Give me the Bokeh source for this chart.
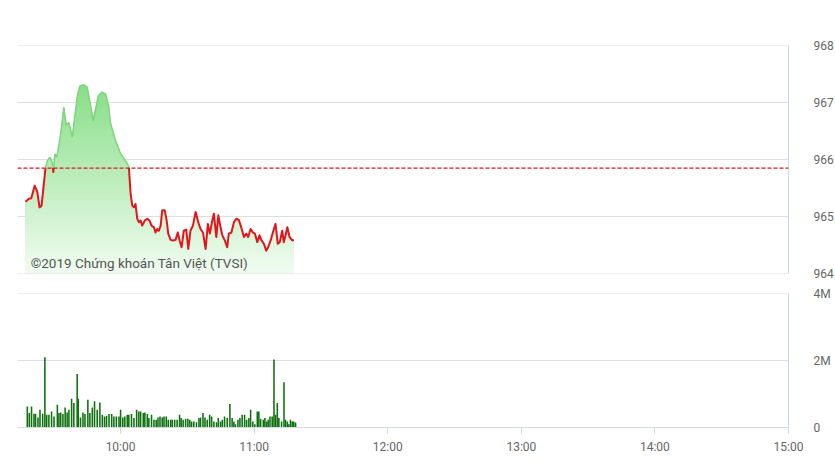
import numpy as np
from bokeh.plotting import figure
from bokeh.layouts import column
from bokeh.models import Range1d, FixedTicker, Label, Span
from bokeh.embed import file_html
from bokeh.resources import INLINE

# ---------------- data ----------------
# time = minutes after 09:00
price_min = [17.3, 18.8, 19.9, 21.4, 22.6, 23.6, 24.5, 26.3, 27.1, 28.25,
             29.3, 29.8, 30.5, 31.3, 32.3, 33.4, 34.5, 35.6, 36.8, 38.3,
             39.3, 40.6, 41.7, 43.5, 45.0, 46.5, 47.7, 48.8, 50.0, 51.5,
             53.3, 54.7, 55.5, 57.8, 60.0, 62.2, 63.7, 64.5, 65.25, 66.0,
             66.7, 67.5, 68.2, 69.0, 69.7, 70.9, 72.0, 73.0, 73.9, 75.0,
             75.7, 76.5, 77.2, 78.0, 78.7, 79.8, 80.7, 81.4, 82.5, 83.5,
             84.7, 85.7, 86.5, 87.4, 88.4, 89.5, 90.4, 91.4, 92.5, 93.7,
             94.9, 95.9, 97.0, 98.2, 99.2, 100.1, 101.2, 101.9, 103.0, 103.9,
             104.9, 105.7, 106.8, 107.9, 108.6, 109.8, 110.9, 112.0, 113.1, 114.2,
             115.4, 116.5, 117.3, 118.4, 119.4, 120.3, 121.4, 122.4, 123.3, 124.4,
             125.4, 126.3, 127.4, 128.4, 129.6, 130.6, 131.5, 132.6, 133.3, 134.1,
             134.9, 135.9, 137.1, 137.8]
price_val = [965.26, 965.31, 965.32, 965.54, 965.43, 965.16, 965.19, 965.86, 965.98, 966.04,
             965.95, 965.78, 966.10, 966.04, 966.25, 966.54, 966.92, 966.60, 966.65, 966.39,
             966.71, 967.12, 967.29, 967.31, 967.27, 966.95, 966.68, 966.89, 967.12, 967.18,
             967.15, 966.92, 966.63, 966.33, 966.10, 965.98, 965.88, 965.40, 965.19, 965.16,
             965.22, 964.96, 964.90, 964.93, 964.84, 964.93, 964.96, 964.93, 964.84, 964.81,
             964.72, 964.78, 964.75, 964.84, 965.11, 965.11, 964.93, 964.70, 964.59, 964.58,
             964.59, 964.72, 964.58, 964.46, 964.75, 964.77, 964.43, 964.75, 964.84, 965.08,
             964.90, 964.78, 964.72, 964.43, 964.87, 964.70, 964.93, 965.05, 964.64, 965.02,
             964.81, 964.67, 964.58, 964.46, 964.70, 964.72, 964.90, 964.96, 964.94, 964.81,
             964.64, 964.70, 964.64, 964.78, 964.72, 964.70, 964.55, 964.67, 964.58, 964.52,
             964.40, 964.46, 964.58, 964.72, 964.87, 964.52, 964.55, 964.75, 964.55, 964.67,
             964.81, 964.64, 964.58, 964.59]
ref_price = 965.85

vol_min = [18.1, 19.0, 20.0, 21.1, 21.8, 22.9, 23.8, 25.0, 26.0, 26.8,
           27.8, 29.0, 30.1, 31.6, 32.3, 33.1, 34.1, 35.1, 36.0, 36.8,
           38.0, 39.0, 40.5, 41.0, 42.0, 43.1, 44.0, 45.3, 46.2, 47.3,
           48.3, 49.5, 50.7, 51.8, 52.8, 53.7, 54.8, 56.0, 57.0, 58.1,
           59.3, 60.0, 61.0, 61.9, 63.0, 63.7, 64.9, 66.0, 67.2, 68.2,
           69.0, 70.2, 70.9, 72.0, 72.7, 73.9, 75.0, 76.0, 76.8, 77.7,
           78.7, 79.5, 80.5, 81.4, 82.5, 83.2, 84.3, 85.4, 86.5, 87.2,
           88.1, 89.2, 90.2, 91.1, 91.9, 92.9, 94.1, 95.2, 95.9, 97.0,
           97.9, 98.9, 100.0, 100.9, 101.9, 103.1, 103.9, 104.9, 105.7, 106.7,
           107.9, 109.1, 110.1, 110.9, 111.6, 112.7, 113.6, 114.6, 115.7, 116.6,
           117.6, 118.4, 119.4, 120.3, 121.4, 122.1, 122.9, 124.1, 124.8, 125.6,
           126.3, 127.1, 128.1, 128.9, 129.6, 130.4, 131.1, 132.3, 133.4, 134.1,
           134.9, 135.6, 136.3, 137.1, 137.8, 138.6]
vol_m = [0.63, 0.43, 0.63, 0.41, 0.41, 0.30, 0.53, 0.41, 2.10, 0.38,
         0.38, 0.48, 0.33, 0.68, 0.43, 0.45, 0.40, 0.60, 0.45, 0.53,
         0.86, 0.73, 1.60, 0.86, 0.30, 0.45, 0.40, 0.83, 0.43, 0.60,
         0.78, 0.53, 0.75, 0.38, 0.33, 0.35, 0.40, 0.40, 0.33, 0.33,
         0.33, 0.53, 0.30, 0.33, 0.38, 0.38, 0.40, 0.28, 0.53, 0.48,
         0.48, 0.43, 0.45, 0.40, 0.28, 0.38, 0.23, 0.23, 0.30, 0.33,
         0.30, 0.33, 0.33, 0.23, 0.23, 0.23, 0.23, 0.23, 0.38, 0.28,
         0.23, 0.26, 0.26, 0.23, 0.18, 0.18, 0.16, 0.28, 0.30, 0.43,
         0.30, 0.23, 0.38, 0.33, 0.18, 0.16, 0.28, 0.18, 0.23, 0.33,
         0.28, 0.70, 0.28, 0.18, 0.10, 0.23, 0.28, 0.38, 0.38, 0.23,
         0.28, 0.53, 0.18, 0.10, 0.48, 0.48, 0.26, 0.23, 0.28, 0.18,
         0.23, 0.33, 0.33, 2.03, 0.38, 0.73, 0.28, 0.18, 1.35, 0.23,
         0.18, 0.10, 0.23, 0.18, 0.18, 0.15]

time_ticks = [60, 120, 180, 240, 300, 360]
time_labels = ["10:00", "11:00", "12:00", "13:00", "14:00", "15:00"]
price_ticks = [964, 965, 966, 967, 968]
vol_ticks = [0, 2, 4]
vol_labels = ["0", "2M", "4M"]
watermark = "©2019 Chứng khoán Tân Việt (TVSI)"

# ---------------- styling helpers ----------------
FONT = "Roboto"
LBL = "#666666"
AXC = "#ccd6eb"
GRID = "#dedede"

x_range = Range1d(13.7, 360)


def style_right_axis(ax):
    ax.axis_line_color = AXC
    ax.axis_line_width = 1
    ax.major_tick_line_color = None
    ax.minor_tick_line_color = None
    ax.major_label_standoff = 19
    ax.major_label_text_color = LBL
    ax.major_label_text_font = FONT
    ax.major_label_text_font_size = "12px"


def edge_lines(p, lo, hi):
    for v in (lo, hi):
        p.add_layout(Span(location=v, dimension="width", line_color=GRID, line_width=1.2))


# ---------------- price panel ----------------
p1 = figure(x_range=x_range, y_range=Range1d(964, 968), frame_width=771, frame_height=228,
            output_backend="svg", toolbar_location=None, min_border_left=17, min_border_top=45,
            min_border_bottom=10, min_border_right=4, y_axis_location="right",
            x_axis_location=None)
p1.outline_line_color = None
p1.xgrid.visible = False
p1.ygrid.grid_line_color = GRID
p1.yaxis.ticker = FixedTicker(ticks=price_ticks)
style_right_axis(p1.yaxis[0])
edge_lines(p1, price_ticks[0], price_ticks[-1])

t = np.array(price_min)
pr = np.array(price_val)

# gradient area (stacked bands)
lo, hi = 964.0, 967.35
top_c = np.array([135, 222, 135])
bot_c = np.array([242, 252, 242])
levels = np.arange(hi, lo, -0.04)
for lev in levels:
    f = (lev - lo) / (hi - lo)
    c = bot_c + (top_c - bot_c) * f
    col = "#%02x%02x%02x" % tuple(int(round(v)) for v in c)
    p1.varea(x=t, y1=np.full(len(t), lo), y2=np.minimum(pr, lev), fill_color=col, fill_alpha=1.0)

# split line into above/below reference runs
runs = []
cx, cy = [t[0]], [pr[0]]
cur = pr[0] >= ref_price
for i in range(1, len(t)):
    a = pr[i] >= ref_price
    if a != cur:
        x0, y0, x1, y1 = t[i - 1], pr[i - 1], t[i], pr[i]
        xc = x0 + (ref_price - y0) / (y1 - y0) * (x1 - x0)
        cx.append(xc); cy.append(ref_price)
        runs.append((cx, cy, cur))
        cx, cy = [xc], [ref_price]
        cur = a
    cx.append(t[i]); cy.append(pr[i])
runs.append((cx, cy, cur))

gx = [r[0] for r in runs if r[2]]
gy = [r[1] for r in runs if r[2]]
rx = [r[0] for r in runs if not r[2]]
ry = [r[1] for r in runs if not r[2]]
p1.multi_line(xs=gx, ys=gy, line_color="#7fd47f", line_width=1.5)
p1.multi_line(xs=rx, ys=ry, line_color="#e3151b", line_width=2, line_join="round")

p1.add_layout(Span(location=ref_price, dimension="width", line_color="#e3151b",
                   line_dash="4 2", line_width=1.2))
p1.add_layout(Label(x=19.6, y=964.05, text=watermark, text_font=FONT, text_font_size="13.5px",
                    text_color="#555555", text_baseline="bottom"))

# ---------------- volume panel ----------------
p2 = figure(x_range=x_range, y_range=Range1d(0, 4), frame_width=771, frame_height=134,
            output_backend="svg", toolbar_location=None, min_border_left=17, min_border_top=10,
            min_border_bottom=10, min_border_right=4, y_axis_location="right")
p2.outline_line_color = None
p2.xgrid.visible = False
p2.ygrid.grid_line_color = GRID
p2.yaxis.ticker = FixedTicker(ticks=vol_ticks)
p2.yaxis.major_label_overrides = {k: v for k, v in zip(vol_ticks, vol_labels)}
style_right_axis(p2.yaxis[0])
edge_lines(p2, vol_ticks[0], vol_ticks[-1])

xa = p2.xaxis[0]
xa.ticker = FixedTicker(ticks=time_ticks)
xa.major_label_overrides = {k: v for k, v in zip(time_ticks, time_labels)}
xa.axis_line_color = AXC
xa.major_tick_line_color = AXC
xa.major_tick_out = 6
xa.major_tick_in = 0
xa.minor_tick_line_color = None
xa.major_label_standoff = 6
xa.major_label_text_color = LBL
xa.major_label_text_font = FONT
xa.major_label_text_font_size = "12px"

p2.vbar(x=vol_min, top=vol_m, bottom=0, width=0.7, fill_color="#0f700f", line_color=None)

layout = column(p1, p2)
open("out.html", "w").write(file_html(layout, INLINE))
